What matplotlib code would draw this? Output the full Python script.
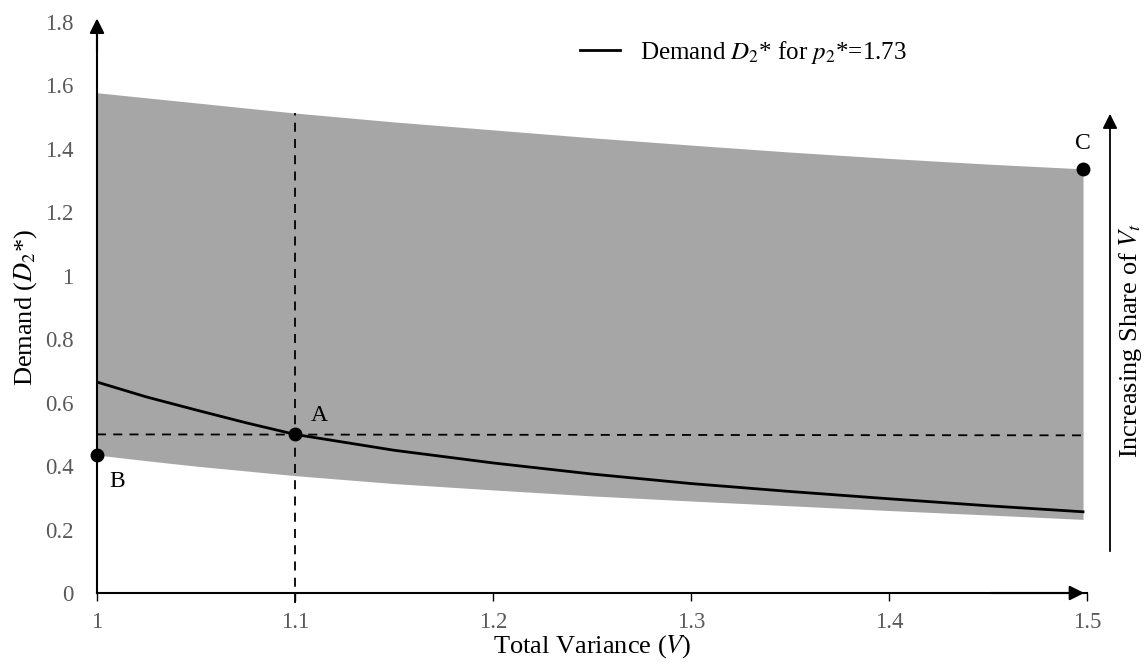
import matplotlib.pyplot as plt
from matplotlib.patches import FancyArrowPatch

plt.rcParams['font.family'] = ['Liberation Serif', 'DejaVu Serif']
plt.rcParams['mathtext.fontset'] = 'stix'

# Total variance V (x positions where values were read)
variance = [1.0, 1.025, 1.05, 1.075, 1.1, 1.15, 1.2, 1.25, 1.3, 1.35, 1.4, 1.45, 1.498]
# Demand D2* for p2* = 1.73
demand = [0.665, 0.618, 0.577, 0.537, 0.50, 0.45, 0.41, 0.375, 0.345, 0.32, 0.297, 0.275, 0.256]
# Shaded range (lower and upper bounds)
band_low = [0.435, 0.417, 0.40, 0.385, 0.37, 0.345, 0.325, 0.306, 0.29, 0.275, 0.26, 0.246, 0.232]
band_high = [1.577, 1.561, 1.545, 1.529, 1.513, 1.485, 1.46, 1.435, 1.412, 1.39, 1.37, 1.352, 1.337]

point_a = (1.1, 0.50)
point_b = (1.0, 0.435)
point_c = (1.498, 1.337)

xticks = [1, 1.1, 1.2, 1.3, 1.4, 1.5]
yticks = [0, 0.2, 0.4, 0.6, 0.8, 1, 1.2, 1.4, 1.6, 1.8]

fig = plt.figure(figsize=(11.47, 6.64), dpi=100)
ax = fig.add_axes([97 / 1147, 71 / 664, 990 / 1147, 571 / 664])

ax.fill_between(variance, band_low, band_high, color='#a6a6a6', lw=0, zorder=1)
ax.plot(variance, demand, color='black', lw=2, zorder=3,
        label='Demand $D_2$* for $p_2$*=1.73')

# dashed reference lines through A
ax.plot([1.0, 1.497], [0.5, 0.497], color='black', lw=1.3, ls=(0, (5, 4)), zorder=2)
ax.plot([1.1, 1.1], [-0.03, band_high[4]], color='black', lw=1.3, ls=(0, (5, 4)),
        zorder=2, clip_on=False)

for px, py in [point_a, point_b, point_c]:
    ax.plot(px, py, 'o', color='black', ms=9, zorder=4, clip_on=False)
ax.text(1.108, 0.525, 'A', fontsize=17, ha='left', va='bottom')
ax.text(1.006, 0.385, 'B', fontsize=17, ha='left', va='top')
ax.text(1.498, 1.385, 'C', fontsize=17, ha='center', va='bottom')

ax.set_xlim(1, 1.5)
ax.set_ylim(0, 1.8)
for s in ['top', 'right']:
    ax.spines[s].set_visible(False)
ax.spines['left'].set_linewidth(1.5)
ax.spines['bottom'].set_linewidth(1.5)

# axis arrows
ax.annotate('', xy=(1.0, 1.82), xytext=(1.0, 1.7),
            arrowprops=dict(arrowstyle='-|>', color='black', lw=1.5, mutation_scale=22),
            annotation_clip=False)
ax.annotate('', xy=(1.5, 0), xytext=(1.45, 0),
            arrowprops=dict(arrowstyle='-|>', color='black', lw=1.5, mutation_scale=22),
            annotation_clip=False)

ax.set_xticks(xticks)
ax.set_xticklabels(['%g' % t for t in xticks])
ax.set_yticks(yticks)
ax.set_yticklabels(['%g' % t for t in yticks])
ax.tick_params(axis='x', length=6, width=1, labelsize=16.5, labelcolor='#595959', pad=8)
ax.tick_params(axis='y', length=0, labelsize=16.5, labelcolor='#595959', pad=17)

ax.set_xlabel('Total Variance ($V$)', fontsize=19, labelpad=0)
ax.set_ylabel('Demand ($D_2$*)', fontsize=19, labelpad=4)

ax.legend(loc='center left', bbox_to_anchor=(580 / 1147, 1 - 52 / 664),
          bbox_transform=fig.transFigure, frameon=False, fontsize=18,
          handlelength=1.6, handletextpad=0.8, borderpad=0, borderaxespad=0)

# right-hand arrow for increasing share
fig.patches.append(FancyArrowPatch(
    (1110 / 1147, 1 - 554 / 664), (1110 / 1147, 1 - 111 / 664),
    transform=fig.transFigure, arrowstyle='-|>', mutation_scale=22,
    color='black', lw=1.3))
fig.text(1131 / 1147, 1 - 340 / 664, 'Increasing Share of $V_t$', rotation=90,
         ha='center', va='center', fontsize=19)

fig.savefig('out.png', dpi=100)
